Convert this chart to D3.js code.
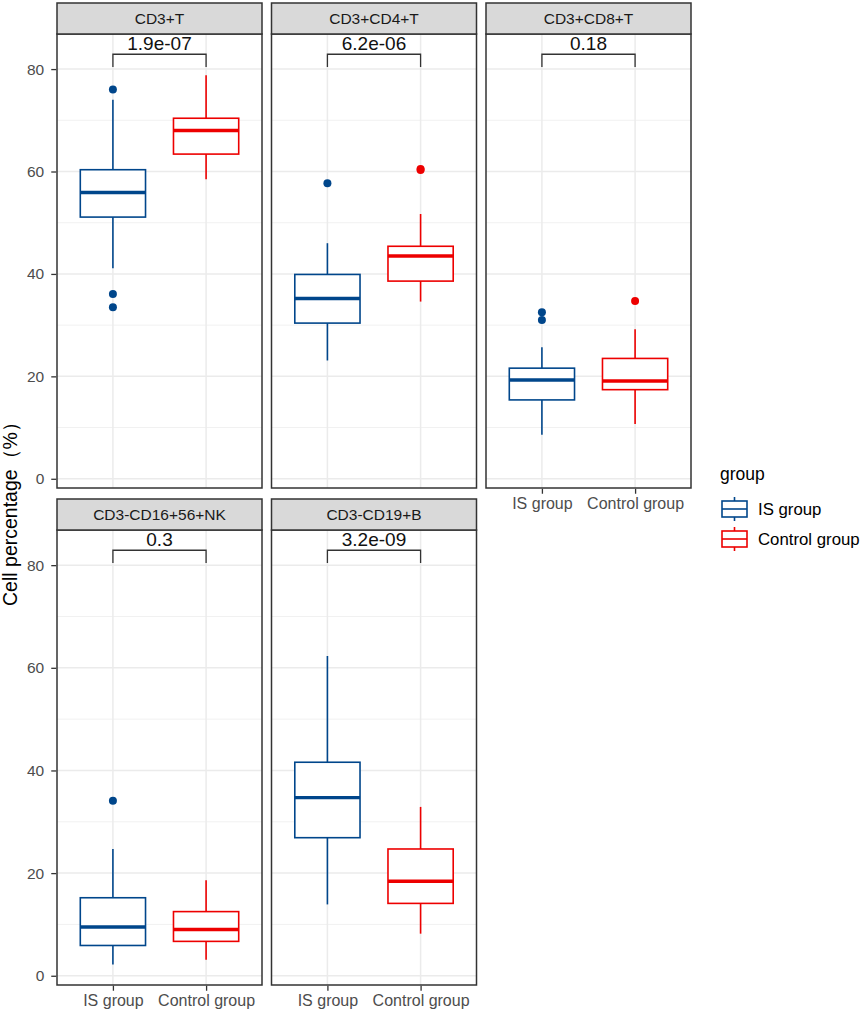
<!DOCTYPE html>
<html>
<head>
<meta charset="utf-8">
<script src="https://cdn.jsdelivr.net/npm/d3@7"></script>
<style>
  body { margin: 0; background: #fff; }
  svg { display: block; font-family: "Liberation Sans", Arial, Helvetica, sans-serif; }
</style>
</head>
<body>
<svg id="chart" width="867" height="1017"></svg>
<script>
// ---- data ----
const panels = ["CD3+T", "CD3+CD4+T", "CD3+CD8+T", "CD3-CD16+56+NK", "CD3-CD19+B"];
const groups = ["IS group", "Control group"];
const pvalues = ["1.9e-07", "6.2e-06", "0.18", "0.3", "3.2e-09"];

const isWhiskerLow  = [41.1, 23.1, 8.6, 2.2, 13.9];
const isQ1          = [51.1, 30.4, 15.4, 5.9, 26.9];
const isMedian      = [55.9, 35.2, 19.3, 9.5, 34.7];
const isQ3          = [60.35, 39.9, 21.6, 15.2, 41.6];
const isWhiskerHigh = [74.0, 46.0, 25.7, 24.7, 62.3];
const isOutliers    = [[76.0, 36.1, 33.5], [57.7], [32.5, 31.0], [34.1], []];

const ctrlWhiskerLow  = [58.5, 34.6, 10.7, 3.1, 8.2];
const ctrlQ1          = [63.4, 38.6, 17.4, 6.7, 14.1];
const ctrlMedian      = [68.0, 43.5, 19.1, 9.0, 18.4];
const ctrlQ3          = [70.4, 45.4, 23.5, 12.5, 24.7];
const ctrlWhiskerHigh = [78.8, 51.7, 29.2, 18.6, 32.9];
const ctrlOutliers    = [[], [60.5, 60.3], [34.7], [], []];

const yTicks = [0, 20, 40, 60, 80];
const yMinorTicks = [10, 30, 50, 70];
const bracketLevels = [80.4, 82.9]; // tick end, bar level

// ---- layout ----
const colors = {"IS group": "#00468B", "Control group": "#ED0000"};
const svg = d3.select("#chart");
const panelW = 205;
const colX = [57, 271.5, 486];
const rows = [
  {stripTop: 3, bodyTop: 34, bodyBottom: 488},
  {stripTop: 499, bodyTop: 530, bodyBottom: 985}
];
const yDomain = [-1.8, 86.85];

const stats = panels.map((p, i) => ({
  panel: p,
  p: pvalues[i],
  boxes: [
    {g: groups[0], lo: isWhiskerLow[i], q1: isQ1[i], med: isMedian[i], q3: isQ3[i], hi: isWhiskerHigh[i], out: isOutliers[i]},
    {g: groups[1], lo: ctrlWhiskerLow[i], q1: ctrlQ1[i], med: ctrlMedian[i], q3: ctrlQ3[i], hi: ctrlWhiskerHigh[i], out: ctrlOutliers[i]}
  ]
}));

stats.forEach((d, i) => {
  const row = Math.floor(i / 3), col = i % 3;
  const R = rows[row];
  const x0 = colX[col];
  const x = d3.scalePoint().domain(groups).range([x0, x0 + panelW]).padding(0.6);
  const y = d3.scaleLinear().domain(yDomain).range([R.bodyBottom, R.bodyTop]);
  const g = svg.append("g");
  const step = x.step();
  const bw = step * 0.7;

  // background
  g.append("rect").attr("x", x0).attr("y", R.bodyTop).attr("width", panelW)
    .attr("height", R.bodyBottom - R.bodyTop).attr("fill", "#fff");

  // grid
  g.selectAll(".minor").data(yMinorTicks).join("line")
    .attr("x1", x0).attr("x2", x0 + panelW)
    .attr("y1", v => y(v)).attr("y2", v => y(v))
    .attr("stroke", "#f1f1f1").attr("stroke-width", 1);
  g.selectAll(".major").data(yTicks).join("line")
    .attr("x1", x0).attr("x2", x0 + panelW)
    .attr("y1", v => y(v)).attr("y2", v => y(v))
    .attr("stroke", "#ebebeb").attr("stroke-width", 1.5);
  g.selectAll(".vmajor").data(groups).join("line")
    .attr("x1", k => x(k)).attr("x2", k => x(k))
    .attr("y1", R.bodyTop).attr("y2", R.bodyBottom)
    .attr("stroke", "#ebebeb").attr("stroke-width", 1.5);

  // boxes
  d.boxes.forEach(b => {
    const cx = x(b.g), c = colors[b.g];
    const bg = g.append("g");
    bg.append("line").attr("x1", cx).attr("x2", cx).attr("y1", y(b.q3)).attr("y2", y(b.hi))
      .attr("stroke", c).attr("stroke-width", 1.6);
    bg.append("line").attr("x1", cx).attr("x2", cx).attr("y1", y(b.q1)).attr("y2", y(b.lo))
      .attr("stroke", c).attr("stroke-width", 1.6);
    bg.append("rect").attr("x", cx - bw / 2).attr("y", y(b.q3)).attr("width", bw)
      .attr("height", y(b.q1) - y(b.q3)).attr("fill", "#fff")
      .attr("stroke", c).attr("stroke-width", 1.6);
    bg.append("line").attr("x1", cx - bw / 2).attr("x2", cx + bw / 2)
      .attr("y1", y(b.med)).attr("y2", y(b.med))
      .attr("stroke", c).attr("stroke-width", 3.4);
    bg.selectAll("circle").data(b.out).join("circle")
      .attr("cx", cx).attr("cy", v => y(v)).attr("r", 4).attr("fill", c);
  });

  // bracket
  const xa = x(groups[0]), xb = x(groups[1]);
  g.append("path")
    .attr("d", `M${xa},${y(bracketLevels[0])}V${y(bracketLevels[1])}H${xb}V${y(bracketLevels[0])}`)
    .attr("fill", "none").attr("stroke", "#333").attr("stroke-width", 1.3);
  g.append("text").attr("x", (xa + xb) / 2).attr("y", y(bracketLevels[1]) - 4)
    .attr("text-anchor", "middle").attr("font-size", 19).attr("fill", "#111").text(d.p);

  // border
  g.append("rect").attr("x", x0).attr("y", R.bodyTop).attr("width", panelW)
    .attr("height", R.bodyBottom - R.bodyTop).attr("fill", "none")
    .attr("stroke", "#333").attr("stroke-width", 1.5);

  // strip
  g.append("rect").attr("x", x0).attr("y", R.stripTop).attr("width", panelW)
    .attr("height", R.bodyTop - R.stripTop).attr("fill", "#d9d9d9")
    .attr("stroke", "#333").attr("stroke-width", 1.5);
  g.append("text").attr("x", x0 + panelW / 2).attr("y", (R.stripTop + R.bodyTop) / 2 + 5.5)
    .attr("text-anchor", "middle").attr("font-size", 15.5).attr("fill", "#1a1a1a").text(d.panel);

  // y axis
  if (col === 0) {
    const ya = g.append("g").attr("transform", `translate(${x0 - 0.75},0)`)
      .call(d3.axisLeft(y).tickValues(yTicks).tickSize(5).tickPadding(7));
    ya.select(".domain").remove();
    ya.selectAll("line").attr("stroke", "#333").attr("stroke-width", 1.3);
    ya.selectAll("text").attr("font-size", 15.5).attr("fill", "#4d4d4d")
      .attr("font-family", "Liberation Sans, Arial, sans-serif");
  }
  // x axis (bottom-most panel in each column)
  if (row === 1 || col === 2) {
    const xa2 = g.append("g").attr("transform", `translate(0,${R.bodyBottom + 0.75})`)
      .call(d3.axisBottom(x).tickSize(5).tickPadding(4));
    xa2.select(".domain").remove();
    xa2.selectAll("line").attr("stroke", "#333").attr("stroke-width", 1.3);
    xa2.selectAll("text").attr("font-size", 16).attr("fill", "#4d4d4d")
      .attr("font-family", "Liberation Sans, Arial, sans-serif");
  }
});

// y axis title
svg.append("text")
  .attr("transform", "translate(17,509) rotate(-90)")
  .attr("text-anchor", "middle").attr("font-size", 19.5).attr("fill", "#000")
  .text("Cell percentage（%）");

// legend
const lg = svg.append("g");
lg.append("text").attr("x", 720).attr("y", 480).attr("font-size", 17.5).attr("fill", "#000").text("group");
groups.forEach((k, i) => {
  const cy = 509 + i * 30;
  const c = colors[k];
  const kx = 722, kw = 25;
  lg.append("line").attr("x1", kx + kw / 2).attr("x2", kx + kw / 2).attr("y1", cy - 12).attr("y2", cy + 12)
    .attr("stroke", c).attr("stroke-width", 1.6);
  lg.append("rect").attr("x", kx).attr("y", cy - 8).attr("width", kw).attr("height", 16)
    .attr("fill", "#fff").attr("stroke", c).attr("stroke-width", 1.6);
  lg.append("line").attr("x1", kx).attr("x2", kx + kw).attr("y1", cy).attr("y2", cy)
    .attr("stroke", c).attr("stroke-width", 1.6);
  lg.append("text").attr("x", 758).attr("y", cy + 6).attr("font-size", 16.8).attr("fill", "#000").text(k);
});
</script>
</body>
</html>
